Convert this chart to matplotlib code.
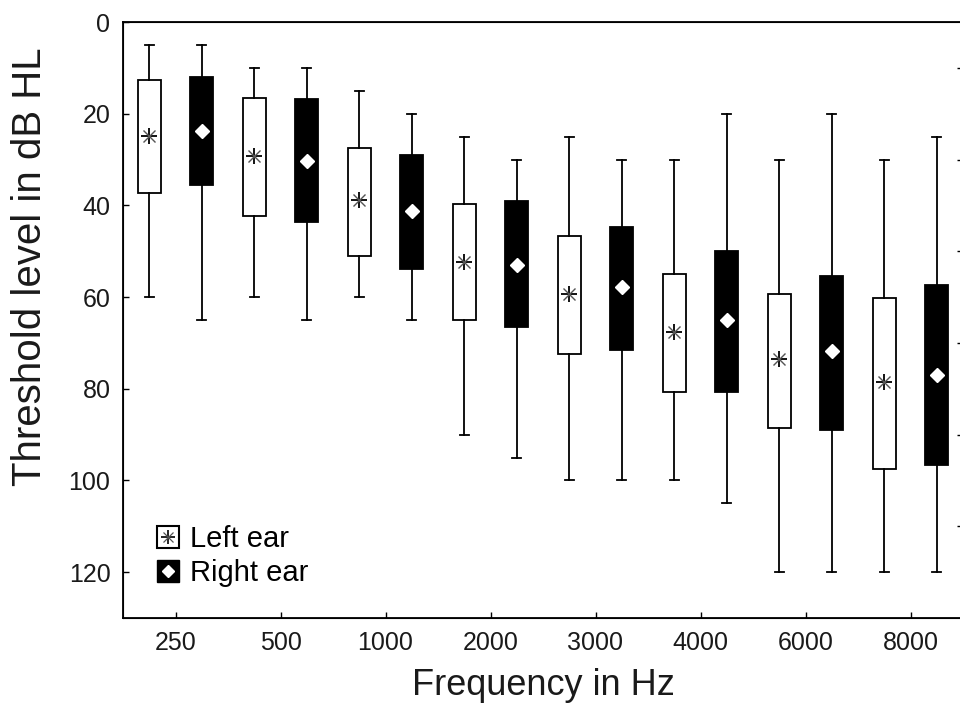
import numpy as np
import matplotlib
matplotlib.use("Agg")
import matplotlib.pyplot as plt
from matplotlib.lines import Line2D

plt.rcParams['font.family'] = ['Liberation Sans', 'DejaVu Sans']

# Frequencies (x categories)
freqs = ['250', '500', '1000', '2000', '3000', '4000', '6000', '8000']

# Left ear: whisker top, box top, marker, box bottom, whisker bottom (dB HL)
left_wtop = [5, 10, 15, 25, 25, 30, 30, 30]
left_q1 = [12.6, 16.6, 27.4, 39.7, 46.6, 54.9, 59.3, 60.1]
left_mid = [24.8, 29.3, 38.8, 52.4, 59.3, 67.6, 73.6, 78.5]
left_q3 = [37.2, 42.3, 51.0, 64.9, 72.4, 80.8, 88.5, 97.6]
left_wbot = [60, 60, 60, 90, 100, 100, 120, 120]

# Right ear
right_wtop = [5, 10, 20, 30, 30, 20, 20, 25]
right_q1 = [12.1, 16.8, 29.1, 39.1, 44.8, 50.0, 55.3, 57.4]
right_mid = [23.7, 30.4, 41.2, 53.1, 57.8, 65.1, 71.7, 76.9]
right_q3 = [35.5, 43.7, 53.8, 66.5, 71.6, 80.8, 88.9, 96.7]
right_wbot = [65, 65, 65, 95, 100, 105, 120, 120]

y_ticks = [0, 20, 40, 60, 80, 100, 120]
right_ticks = [10, 30, 50, 70, 90, 110]

fig = plt.figure(figsize=(9.6, 7.18), dpi=100)
ax = fig.add_axes([123/960, 1-618/718, (963-123)/960, (618-22)/718])

xpos = np.arange(len(freqs))
offset = 0.25
box_w = 0.215


def stats(wt, q1, md, q3, wb):
    out = []
    for a, b, c, d, e in zip(wt, q1, md, q3, wb):
        out.append(dict(whislo=a, q1=b, med=c, q3=d, whishi=e, fliers=[]))
    return out


line_kw = dict(color='black', linewidth=1.3)
ax.bxp(stats(left_wtop, left_q1, left_mid, left_q3, left_wbot),
       positions=xpos - offset, widths=box_w, patch_artist=True,
       showfliers=False,
       boxprops=dict(facecolor='white', edgecolor='black', linewidth=1.3),
       whiskerprops=line_kw, capprops=line_kw,
       medianprops=dict(visible=False), capwidths=0.09)
ax.bxp(stats(right_wtop, right_q1, right_mid, right_q3, right_wbot),
       positions=xpos + offset, widths=box_w, patch_artist=True,
       showfliers=False,
       boxprops=dict(facecolor='black', edgecolor='black', linewidth=1.3),
       whiskerprops=line_kw, capprops=line_kw,
       medianprops=dict(visible=False), capwidths=0.09)

# centre markers
ax.plot(xpos - offset, left_mid, ls='none', marker='+', ms=11, mew=1.3, color='black', zorder=5)
ax.plot(xpos - offset, left_mid, ls='none', marker='x', ms=8, mew=1.0, color='#555555', zorder=5)
ax.plot(xpos + offset, right_mid, ls='none', marker='D', ms=7, mfc='white', mec='white', zorder=5)

ax.set_xlim(-0.5, 7.5)
ax.set_ylim(130, 0)
ax.set_xticks(xpos)
ax.set_xticklabels(freqs)
ax.set_yticks(y_ticks)
ax.tick_params(axis='both', direction='in', length=4, width=1, labelsize=18, pad=9,
               labelcolor='#1a1a1a')

for s in ax.spines.values():
    s.set_linewidth(1.3)

ax2 = ax.twinx()
ax2.set_ylim(130, 0)
ax2.set_yticks(right_ticks)
ax2.set_yticklabels([])
ax2.tick_params(axis='y', direction='in', length=4, width=1)

ax.set_xlabel('Frequency in Hz', fontsize=26, labelpad=10, color='#1a1a1a')
ax.set_ylabel('Threshold level in dB HL', fontsize=29, color='#1a1a1a')
ax.yaxis.set_label_coords(-0.088, 0.59)

h_left = (Line2D([], [], ls='none', marker='s', ms=16, mfc='white', mec='black', mew=1.5),
          Line2D([], [], ls='none', marker='+', ms=10, mew=1.2, color='black'),
          Line2D([], [], ls='none', marker='x', ms=7, mew=0.9, color='#555555'))
h_right = (Line2D([], [], ls='none', marker='s', ms=16, mfc='black', mec='black'),
           Line2D([], [], ls='none', marker='D', ms=6.5, mfc='white', mec='white'))
ax.legend([h_left, h_right], ['Left ear', 'Right ear'], loc='lower left',
          bbox_to_anchor=(0.022, 0.032), frameon=False, fontsize=21,
          handlelength=1.0, handletextpad=0.25, labelspacing=0.2,
          borderaxespad=0)

fig.savefig('out.png', dpi=100)
